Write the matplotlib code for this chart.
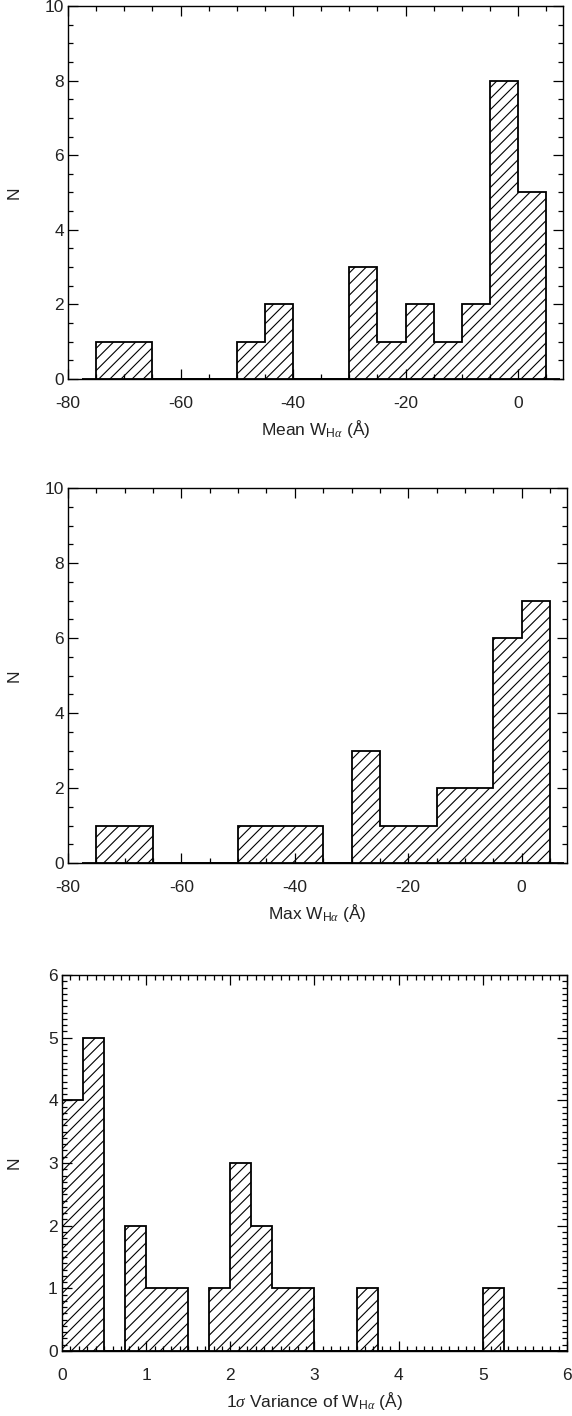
import numpy as np
import matplotlib
matplotlib.use('Agg')
import matplotlib.pyplot as plt
from matplotlib.ticker import MultipleLocator

plt.rcParams['font.family'] = ['Liberation Sans', 'DejaVu Sans']
plt.rcParams['mathtext.fontset'] = 'custom'
plt.rcParams['mathtext.rm'] = 'Liberation Sans'
plt.rcParams['mathtext.it'] = 'Liberation Serif:italic'
plt.rcParams['axes.unicode_minus'] = False
plt.rcParams['hatch.linewidth'] = 0.8

# Data: histogram counts
# Mean W_Halpha, 5 A bins starting at -75
mean_start = -75
mean_width = 5
mean_counts = [1, 1, 0, 0, 0, 1, 2, 0, 0, 3, 1, 2, 1, 2, 8, 5]

# Max W_Halpha, 5 A bins starting at -75
max_start = -75
max_width = 5
max_counts = [1, 1, 0, 0, 0, 1, 1, 1, 0, 3, 1, 1, 2, 2, 6, 7]

# 1 sigma variance, 0.25 A bins starting at 0
var_start = 0.0
var_width = 0.25
var_counts = [4, 5, 0, 2, 1, 1, 0, 1, 3, 2, 1, 1, 0, 0, 1, 0,
              0, 0, 0, 0, 1, 0, 0, 0]

W = 572
H = 1416
fig = plt.figure(figsize=(W / 100, H / 100), dpi=100)
FS = 12.5


def make_axes(l, t, r, b):
    return fig.add_axes([l / W, 1 - b / H, (r - l) / W, (b - t) / H])


def draw_hist(ax, start, width, counts, ext_left, ext_right):
    counts = np.array(counts)
    edges = start + width * np.arange(len(counts) + 1)
    ax.bar(edges[:-1], counts, width=width, align='edge', fill=False,
           hatch='///', linewidth=0, edgecolor='black')
    ax.stairs(counts, edges, baseline=0, color='black', linewidth=1.3)
    ax.hlines(0, edges[0] - ext_left, edges[-1] + ext_right,
              color='black', linewidth=1.3)


def style(ax, xmaj, xmin, ymaj, ymin):
    ax.xaxis.set_major_locator(MultipleLocator(xmaj))
    ax.xaxis.set_minor_locator(MultipleLocator(xmin))
    ax.yaxis.set_major_locator(MultipleLocator(ymaj))
    ax.yaxis.set_minor_locator(MultipleLocator(ymin))
    ax.tick_params(which='both', direction='in', top=True, right=True,
                   labelsize=FS, width=0.9, labelcolor='#222222')
    ax.tick_params(which='major', length=7)
    ax.tick_params(which='minor', length=3.5)
    ax.tick_params(axis='x', pad=12)
    ax.tick_params(axis='y', pad=3)
    for s in ax.spines.values():
        s.set_linewidth(1.0)


# Panel 1: mean
ax1 = make_axes(68, 6, 563, 379)
draw_hist(ax1, mean_start, mean_width, mean_counts, 2.5, 2.5)
ax1.set_xlim(-80, 8)
ax1.set_ylim(0, 10)
style(ax1, 20, 5, 2, 0.5)
ax1.set_ylabel('N', fontsize=FS, color='#222222')
ax1.yaxis.set_label_coords(-0.093, 0.5)
ax1.set_xlabel(r'Mean W$_{\mathrm{H}\alpha}$ (Å)', fontsize=FS,
               color='#222222', labelpad=5)

# Panel 2: max
ax2 = make_axes(68, 488, 567, 863)
draw_hist(ax2, max_start, max_width, max_counts, 2.5, 2.5)
ax2.set_xlim(-80, 8)
ax2.set_ylim(0, 10)
style(ax2, 20, 5, 2, 0.5)
ax2.set_ylabel('N', fontsize=FS, color='#222222')
ax2.yaxis.set_label_coords(-0.093, 0.5)
ax2.set_xlabel(r'Max W$_{\mathrm{H}\alpha}$ (Å)', fontsize=FS,
               color='#222222', labelpad=5)

# Panel 3: variance
ax3 = make_axes(62, 975, 567, 1351)
draw_hist(ax3, var_start, var_width, var_counts, 0, 0)
ax3.set_xlim(0, 6)
ax3.set_ylim(0, 6)
style(ax3, 1, 0.1, 1, 0.1)
ax3.set_ylabel('N', fontsize=FS, color='#222222')
ax3.yaxis.set_label_coords(-0.079, 0.5)
ax3.set_xlabel(r'1$\it{\sigma}$ Variance of W$_{\mathrm{H}\alpha}$ (Å)',
               fontsize=FS, color='#222222', labelpad=5)

fig.savefig('out.png', dpi=100)
